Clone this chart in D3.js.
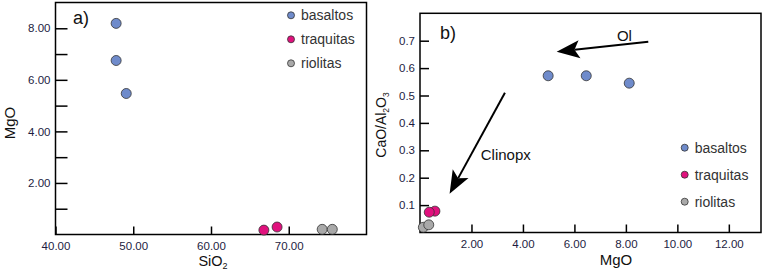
<!DOCTYPE html>
<html>
<head>
<meta charset="utf-8">
<script src="https://cdn.jsdelivr.net/npm/d3@7"></script>
<style>
  body { margin: 0; background: #fff; }
  svg { display: block; font-family: "Liberation Sans", Arial, sans-serif; }
</style>
</head>
<body>
<svg id="chart" width="767" height="271"></svg>
<script>
// grupos y colores
const groups = ["basaltos", "traquitas", "riolitas"];
const groupColors = ["#6f8bcb", "#e0117d", "#a9a9a9"];

// panel a) SiO2 vs MgO
const aBasaltosSiO2 = [47.8, 47.8, 49.1];
const aBasaltosMgO = [8.19, 6.75, 5.47];
const aTraquitasSiO2 = [66.8, 68.5];
const aTraquitasMgO = [0.17, 0.29];
const aRiolitasSiO2 = [74.3, 75.6];
const aRiolitasMgO = [0.2, 0.2];
const aXTicks = [40, 50, 60, 70];
const aYTicks = [1, 2, 3, 4, 5, 6, 7, 8];

// panel b) MgO vs CaO/Al2O3
const bBasaltosMgO = [4.98, 6.46, 8.13];
const bBasaltosRatio = [0.572, 0.572, 0.545];
const bTraquitasMgO = [0.58, 0.36];
const bTraquitasRatio = [0.078, 0.074];
const bRiolitasMgO = [0.13, 0.34];
const bRiolitasRatio = [0.019, 0.028];
const bXTicks = [2, 4, 6, 8, 10, 12];
const bYTicks = [0.1, 0.2, 0.3, 0.4, 0.5, 0.6, 0.7];

// flechas (inicio -> punta) en unidades de datos
const olArrow = [[8.87, 0.696], [5.31, 0.660]];
const cpxArrow = [[3.30, 0.510], [1.15, 0.141]];

const svg = d3.select("#chart");
const tickColor = "#1d1d3f";

function makePoints(xs, ys, gi) {
  return xs.map((x, i) => ({ x: x, y: ys[i], g: gi }));
}

function drawFrame(xScale, yScale) {
  const [x0, x1] = xScale.range();
  const [y0, y1] = yScale.range();
  svg.append("rect")
    .attr("x", x0).attr("y", y1)
    .attr("width", x1 - x0).attr("height", y0 - y1)
    .attr("fill", "none").attr("stroke", "#000").attr("stroke-width", 1.5);
}

function styleAxis(g) {
  g.select(".domain").remove();
  g.selectAll(".tick line").attr("stroke", "#000").attr("stroke-width", 1.5);
  g.selectAll(".tick text")
    .attr("fill", tickColor)
    .style("font-size", "11.5px")
    .style("font-family", "'Liberation Sans', Arial, sans-serif");
}

function drawPoints(points, xScale, yScale) {
  svg.append("g").selectAll("circle")
    .data(points)
    .enter()
    .append("circle")
    .attr("cx", d => xScale(d.x))
    .attr("cy", d => yScale(d.y))
    .attr("r", 5)
    .attr("fill", d => groupColors[d.g])
    .attr("stroke", "#333")
    .attr("stroke-width", 0.8);
}

function drawLegend(x, y, step) {
  const lg = svg.append("g").attr("transform", `translate(${x},${y})`);
  groups.forEach((name, i) => {
    lg.append("circle")
      .attr("cx", 0).attr("cy", i * step)
      .attr("r", 3.5)
      .attr("fill", groupColors[i])
      .attr("stroke", "#333").attr("stroke-width", 0.8);
    lg.append("text")
      .attr("x", 10).attr("y", i * step + 5)
      .attr("fill", "#333")
      .style("font-size", "14px")
      .text(name);
  });
}

function drawArrow(arrow, xScale, yScale) {
  const [sx, sy] = [xScale(arrow[0][0]), yScale(arrow[0][1])];
  const [tx, ty] = [xScale(arrow[1][0]), yScale(arrow[1][1])];
  const len = Math.hypot(tx - sx, ty - sy);
  const ux = (tx - sx) / len, uy = (ty - sy) / len;
  const px = -uy, py = ux;
  const headLen = 23, headW = 9;
  const bx = tx - ux * headLen, by = ty - uy * headLen;
  const nx = tx - ux * headLen * 0.78, ny = ty - uy * headLen * 0.78;
  svg.append("line")
    .attr("x1", sx).attr("y1", sy)
    .attr("x2", nx).attr("y2", ny)
    .attr("stroke", "#000").attr("stroke-width", 2);
  svg.append("path")
    .attr("d", `M${tx},${ty}L${bx + px * headW},${by + py * headW}L${nx},${ny}L${bx - px * headW},${by - py * headW}Z`)
    .attr("fill", "#000");
}

// ---------- panel a ----------
const ax = d3.scaleLinear().domain([40, 80]).range([55.5, 366.5]);
const ay = d3.scaleLinear().domain([0, 9]).range([234.5, 2.5]);

svg.append("g")
  .attr("transform", `translate(0,${ay(0)})`)
  .call(d3.axisBottom(ax).tickValues(aXTicks).tickSize(-8).tickPadding(7).tickFormat(d3.format(".2f")))
  .call(styleAxis);

svg.append("g")
  .attr("transform", `translate(${ax(40)},0)`)
  .call(d3.axisLeft(ay).tickValues(aYTicks).tickSize(-12).tickPadding(5)
    .tickFormat(d => d % 2 === 0 ? d3.format(".2f")(d) : ""))
  .call(styleAxis);

drawFrame(ax, ay);

drawPoints(
  makePoints(aBasaltosSiO2, aBasaltosMgO, 0)
    .concat(makePoints(aTraquitasSiO2, aTraquitasMgO, 1))
    .concat(makePoints(aRiolitasSiO2, aRiolitasMgO, 2)),
  ax, ay);

svg.append("text").attr("x", 73).attr("y", 24)
  .style("font-size", "18px").attr("fill", "#111").text("a)");

drawLegend(291, 15.3, 24);

svg.append("text")
  .attr("transform", "translate(15,123) rotate(-90)")
  .attr("text-anchor", "middle")
  .style("font-size", "15px").attr("fill", "#111")
  .text("MgO");

const siTitle = svg.append("text")
  .attr("x", 213).attr("y", 266)
  .attr("text-anchor", "middle")
  .style("font-size", "14.5px").attr("fill", "#111");
siTitle.append("tspan").text("SiO");
siTitle.append("tspan").attr("dy", 3).style("font-size", "9px").text("2");

// ---------- panel b ----------
const bx = d3.scaleLinear().domain([0, 13.25]).range([420, 761]);
const by = d3.scaleLinear().domain([0, 0.8]).range([232.5, 13.3]);

svg.append("g")
  .attr("transform", `translate(0,${by(0)})`)
  .call(d3.axisBottom(bx).tickValues(bXTicks).tickSize(-8).tickPadding(7).tickFormat(d3.format(".2f")))
  .call(styleAxis);

svg.append("g")
  .attr("transform", `translate(${bx(0)},0)`)
  .call(d3.axisLeft(by).tickValues(bYTicks).tickSize(-9).tickPadding(5).tickFormat(d3.format(".1f")))
  .call(styleAxis);

drawFrame(bx, by);

drawArrow(olArrow, bx, by);
drawArrow(cpxArrow, bx, by);

svg.append("text").attr("x", bx(7.65)).attr("y", by(0.70))
  .style("font-size", "15px").attr("fill", "#111").text("Ol");
svg.append("text").attr("x", bx(2.36)).attr("y", by(0.266))
  .style("font-size", "15px").attr("fill", "#111").text("Clinopx");

drawPoints(
  makePoints(bBasaltosMgO, bBasaltosRatio, 0)
    .concat(makePoints(bTraquitasMgO, bTraquitasRatio, 1))
    .concat(makePoints(bRiolitasMgO, bRiolitasRatio, 2)),
  bx, by);

svg.append("text").attr("x", 440).attr("y", 39)
  .style("font-size", "18px").attr("fill", "#111").text("b)");

drawLegend(684.7, 147.7, 27);

const caTitle = svg.append("text")
  .attr("transform", "translate(386,125) rotate(-90)")
  .attr("text-anchor", "middle")
  .style("font-size", "14px").attr("fill", "#111");
caTitle.append("tspan").text("CaO/Al");
caTitle.append("tspan").attr("dy", 3).style("font-size", "8.5px").text("2");
caTitle.append("tspan").attr("dy", -3).text("O");
caTitle.append("tspan").attr("dy", 3).style("font-size", "8.5px").text("3");

svg.append("text")
  .attr("x", 616).attr("y", 265)
  .attr("text-anchor", "middle")
  .style("font-size", "15px").attr("fill", "#111")
  .text("MgO");
</script>
</body>
</html>
